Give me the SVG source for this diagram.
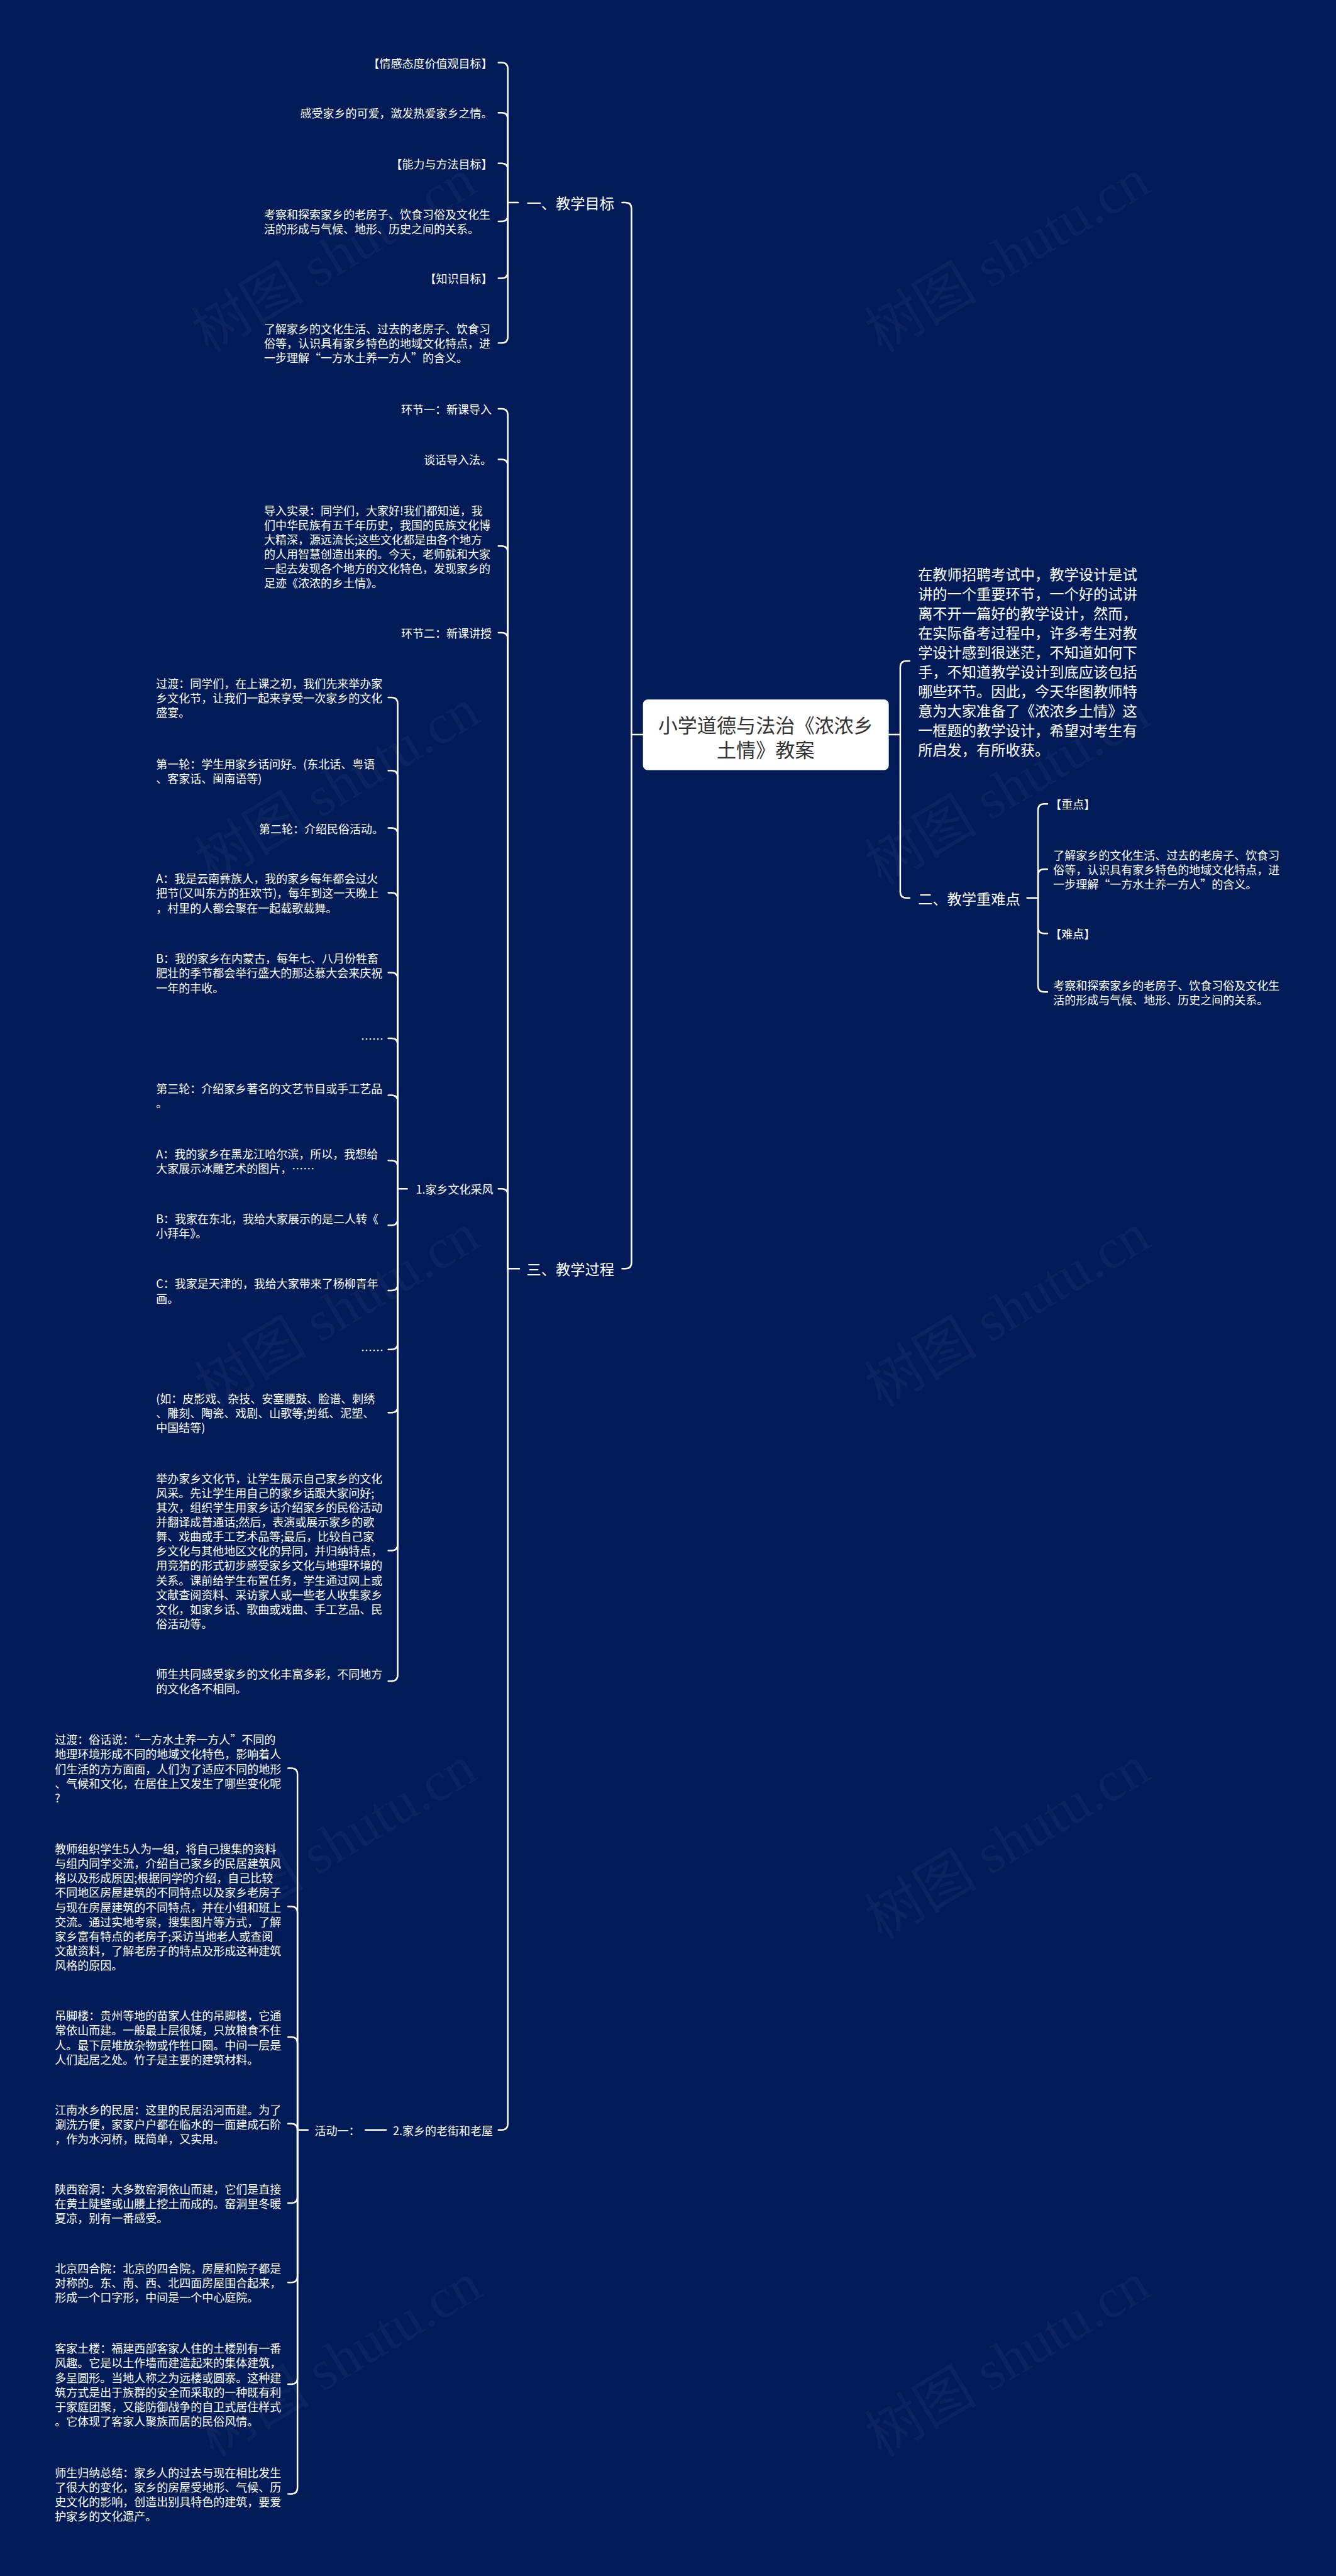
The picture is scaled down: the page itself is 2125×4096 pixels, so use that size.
<svg xmlns="http://www.w3.org/2000/svg" width="2125" height="4096" viewBox="0 0 2125 4096">
<style>
.t{font-family:"Noto Sans CJK SC","Liberation Sans",sans-serif;fill:#ffffff;font-size:21.7px;dominant-baseline:central}
.l2{font-size:28px}
.rt{font-family:"Noto Sans CJK SC","Liberation Sans",sans-serif;fill:#333333;font-size:37.5px;dominant-baseline:central;text-anchor:middle}
.e{text-anchor:end}
.c path{fill:none;stroke:#ffffff;stroke-width:3;stroke-linecap:round;stroke-linejoin:round}
.wm{font-family:"Liberation Serif","Noto Sans CJK SC",serif;font-size:108px;fill:#ffffff;fill-opacity:0.045;text-anchor:middle;dominant-baseline:central}
</style>
<rect width="2125" height="4096" fill="#001b58"/>
<g transform="scale(0.8301)">
<g id="watermark">
<text class="wm" x="640" y="490" transform="rotate(-31 640 490)">树图 shutu.cn</text>
<text class="wm" x="1930" y="490" transform="rotate(-31 1930 490)">树图 shutu.cn</text>
<text class="wm" x="646" y="1505" transform="rotate(-31 646 1505)">树图 shutu.cn</text>
<text class="wm" x="1930" y="1510" transform="rotate(-31 1930 1510)">树图 shutu.cn</text>
<text class="wm" x="646" y="2510" transform="rotate(-31 646 2510)">树图 shutu.cn</text>
<text class="wm" x="1930" y="2510" transform="rotate(-31 1930 2510)">树图 shutu.cn</text>
<text class="wm" x="640" y="3530" transform="rotate(-31 640 3530)">树图 shutu.cn</text>
<text class="wm" x="1930" y="3530" transform="rotate(-31 1930 3530)">树图 shutu.cn</text>
<text class="wm" x="650" y="4520" transform="rotate(-31 650 4520)">树图 shutu.cn</text>
<text class="wm" x="1930" y="4520" transform="rotate(-31 1930 4520)">树图 shutu.cn</text>
</g>
<g id="connectors" class="c">
<path d="M1232,1407 L1210,1407"/>
<path d="M1192,388 L1198,388 Q1210,388 1210,400 L1210,1407"/>
<path d="M1210,1407 L1210,2418 Q1210,2430 1198,2430 L1192,2430"/>
<path d="M1703,1407 L1725,1407"/>
<path d="M1725,1407 L1725,1278 Q1725,1266 1737,1266 L1743,1266"/>
<path d="M1725,1407 L1725,1708 Q1725,1720 1737,1720 L1743,1720"/>
<path d="M1968,1720 L1989,1720"/>
<path d="M1989,1720 L1989,1552 Q1989,1540 2001,1540 L2007,1540"/>
<path d="M1989,1720 L1989,1677 Q1989,1665 2001,1665 L2007,1665"/>
<path d="M1989,1720 L1989,1776 Q1989,1788 2001,1788 L2007,1788"/>
<path d="M1989,1720 L1989,1888 Q1989,1900 2001,1900 L2007,1900"/>
<path d="M993,388 L973,388"/>
<path d="M955,120 L961,120 Q973,120 973,132 L973,388"/>
<path d="M955,216 L961,216 Q973,216 973,228 L973,388"/>
<path d="M955,313 L961,313 Q973,313 973,325 L973,388"/>
<path d="M973,388 L973,412 Q973,424 961,424 L955,424"/>
<path d="M973,388 L973,521 Q973,533 961,533 L955,533"/>
<path d="M973,388 L973,645 Q973,657 961,657 L955,657"/>
<path d="M995,2430 L973,2430"/>
<path d="M955,783 L961,783 Q973,783 973,795 L973,2430"/>
<path d="M955,880 L961,880 Q973,880 973,892 L973,2430"/>
<path d="M955,1046 L961,1046 Q973,1046 973,1058 L973,2430"/>
<path d="M955,1212 L961,1212 Q973,1212 973,1224 L973,2430"/>
<path d="M955,2277 L961,2277 Q973,2277 973,2289 L973,2430"/>
<path d="M973,2430 L973,4068 Q973,4080 961,4080 L955,4080"/>
<path d="M780,2277 L762,2277"/>
<path d="M744,1336 L750,1336 Q762,1336 762,1348 L762,2277"/>
<path d="M744,1476 L750,1476 Q762,1476 762,1488 L762,2277"/>
<path d="M744,1586 L750,1586 Q762,1586 762,1598 L762,2277"/>
<path d="M744,1710 L750,1710 Q762,1710 762,1722 L762,2277"/>
<path d="M744,1863 L750,1863 Q762,1863 762,1875 L762,2277"/>
<path d="M744,1989 L750,1989 Q762,1989 762,2001 L762,2277"/>
<path d="M744,2098 L750,2098 Q762,2098 762,2110 L762,2277"/>
<path d="M744,2223 L750,2223 Q762,2223 762,2235 L762,2277"/>
<path d="M762,2277 L762,2335 Q762,2347 750,2347 L744,2347"/>
<path d="M762,2277 L762,2460 Q762,2472 750,2472 L744,2472"/>
<path d="M762,2277 L762,2573 Q762,2585 750,2585 L744,2585"/>
<path d="M762,2277 L762,2694 Q762,2706 750,2706 L744,2706"/>
<path d="M762,2277 L762,2958 Q762,2970 750,2970 L744,2970"/>
<path d="M762,2277 L762,3208 Q762,3220 750,3220 L744,3220"/>
<path d="M740,4080 L700,4080"/>
<path d="M590,4080 L570,4080"/>
<path d="M552,3387 L558,3387 Q570,3387 570,3399 L570,4080"/>
<path d="M552,3652 L558,3652 Q570,3652 570,3664 L570,4080"/>
<path d="M552,3902 L558,3902 Q570,3902 570,3914 L570,4080"/>
<path d="M552,4068 L558,4068 Q570,4068 570,4080"/>
<path d="M570,4080 L570,4208 Q570,4220 558,4220 L552,4220"/>
<path d="M570,4080 L570,4360 Q570,4372 558,4372 L552,4372"/>
<path d="M570,4080 L570,4555 Q570,4567 558,4567 L552,4567"/>
<path d="M570,4080 L570,4765 Q570,4777 558,4777 L552,4777"/>
</g>
<g id="root">
<rect x="1232" y="1340" width="471" height="135" rx="9" fill="#ffffff"/>
<text class="rt"><tspan x="1467" y="1386">小学道德与法治《浓浓乡</tspan><tspan x="1467" y="1433">土情》教案</tspan></text>
</g>
<g id="n-intro"><text class="t l2"><tspan x="1759" y="1098.7">在教师招聘考试中，教学设计是试</tspan><tspan x="1759" y="1136.1">讲的一个重要环节，一个好的试讲</tspan><tspan x="1759" y="1173.5">离不开一篇好的教学设计，然而，</tspan><tspan x="1759" y="1210.9">在实际备考过程中，许多考生对教</tspan><tspan x="1759" y="1248.3">学设计感到很迷茫，不知道如何下</tspan><tspan x="1759" y="1285.7">手，不知道教学设计到底应该包括</tspan><tspan x="1759" y="1323.1">哪些环节。因此，今天华图教师特</tspan><tspan x="1759" y="1360.5">意为大家准备了《浓浓乡土情》这</tspan><tspan x="1759" y="1397.9">一框题的教学设计，希望对考生有</tspan><tspan x="1759" y="1435.3">所启发，有所收获。</tspan></text></g>
<g id="n-zhongnan"><text class="t l2" x="1759" y="1720">二、教学重难点</text></g>
<g id="n-zhongdian"><text class="t" x="2012" y="1540">【重点】</text></g>
<g id="n-zhongdian-c"><text class="t"><tspan x="2018" y="1637.2">了解家乡的文化生活、过去的老房子、饮食习</tspan><tspan x="2018" y="1665">俗等，认识具有家乡特色的地域文化特点，进</tspan><tspan x="2018" y="1692.8">一步理解“一方水土养一方人”的含义。</tspan></text></g>
<g id="n-nandian"><text class="t" x="2012" y="1788">【难点】</text></g>
<g id="n-nandian-c"><text class="t"><tspan x="2018" y="1886.1">考察和探索家乡的老房子、饮食习俗及文化生</tspan><tspan x="2018" y="1913.9">活的形成与气候、地形、历史之间的关系。</tspan></text></g>
<g id="n-mubiao"><text class="t l2" x="1009" y="388">一、教学目标</text></g>
<g id="n-m1"><text class="t e" x="944" y="120">【情感态度价值观目标】</text></g>
<g id="n-m2"><text class="t e" x="944" y="216">感受家乡的可爱，激发热爱家乡之情。</text></g>
<g id="n-m3"><text class="t e" x="944" y="313">【能力与方法目标】</text></g>
<g id="n-m4"><text class="t"><tspan x="506" y="410.1">考察和探索家乡的老房子、饮食习俗及文化生</tspan><tspan x="506" y="437.9">活的形成与气候、地形、历史之间的关系。</tspan></text></g>
<g id="n-m5"><text class="t e" x="944" y="533">【知识目标】</text></g>
<g id="n-m6"><text class="t"><tspan x="506" y="629.2">了解家乡的文化生活、过去的老房子、饮食习</tspan><tspan x="506" y="657">俗等，认识具有家乡特色的地域文化特点，进</tspan><tspan x="506" y="684.8">一步理解“一方水土养一方人”的含义。</tspan></text></g>
<g id="n-guocheng"><text class="t l2" x="1009" y="2430">三、教学过程</text></g>
<g id="n-g1"><text class="t e" x="942" y="783">环节一：新课导入</text></g>
<g id="n-g2"><text class="t e" x="942" y="880">谈话导入法。</text></g>
<g id="n-g3"><text class="t"><tspan x="506" y="976.5">导入实录：同学们，大家好!我们都知道，我</tspan><tspan x="506" y="1004.3">们中华民族有五千年历史，我国的民族文化博</tspan><tspan x="506" y="1032.1">大精深，源远流长;这些文化都是由各个地方</tspan><tspan x="506" y="1059.9">的人用智慧创造出来的。今天，老师就和大家</tspan><tspan x="506" y="1087.7">一起去发现各个地方的文化特色，发现家乡的</tspan><tspan x="506" y="1115.5">足迹《浓浓的乡土情》。</tspan></text></g>
<g id="n-g4"><text class="t e" x="942" y="1212">环节二：新课讲授</text></g>
<g id="n-caifeng"><text class="t" x="797" y="2277">1.家乡文化采风</text></g>
<g id="n-c1"><text class="t"><tspan x="299" y="1308.2">过渡：同学们，在上课之初，我们先来举办家</tspan><tspan x="299" y="1336">乡文化节，让我们一起来享受一次家乡的文化</tspan><tspan x="299" y="1363.8">盛宴。</tspan></text></g>
<g id="n-c2"><text class="t"><tspan x="299" y="1462.1">第一轮：学生用家乡话问好。(东北话、粤语</tspan><tspan x="299" y="1489.9">、客家话、闽南语等)</tspan></text></g>
<g id="n-c3"><text class="t e" x="735" y="1586">第二轮：介绍民俗活动。</text></g>
<g id="n-c4"><text class="t"><tspan x="299" y="1682.2">A：我是云南彝族人，我的家乡每年都会过火</tspan><tspan x="299" y="1710">把节(又叫东方的狂欢节)，每年到这一天晚上</tspan><tspan x="299" y="1737.8">，村里的人都会聚在一起载歌载舞。</tspan></text></g>
<g id="n-c5"><text class="t"><tspan x="299" y="1835.2">B：我的家乡在内蒙古，每年七、八月份牲畜</tspan><tspan x="299" y="1863">肥壮的季节都会举行盛大的那达慕大会来庆祝</tspan><tspan x="299" y="1890.8">一年的丰收。</tspan></text></g>
<g id="n-c6"><text class="t e" x="735" y="1989">……</text></g>
<g id="n-c7"><text class="t"><tspan x="299" y="2084.1">第三轮：介绍家乡著名的文艺节目或手工艺品</tspan><tspan x="299" y="2111.9">。</tspan></text></g>
<g id="n-c8"><text class="t"><tspan x="299" y="2209.1">A：我的家乡在黑龙江哈尔滨，所以，我想给</tspan><tspan x="299" y="2236.9">大家展示冰雕艺术的图片，……</tspan></text></g>
<g id="n-c9"><text class="t"><tspan x="299" y="2333.1">B：我家在东北，我给大家展示的是二人转《</tspan><tspan x="299" y="2360.9">小拜年》。</tspan></text></g>
<g id="n-c10"><text class="t"><tspan x="299" y="2458.1">C：我家是天津的，我给大家带来了杨柳青年</tspan><tspan x="299" y="2485.9">画。</tspan></text></g>
<g id="n-c11"><text class="t e" x="735" y="2585">……</text></g>
<g id="n-c12"><text class="t"><tspan x="299" y="2678.2">(如：皮影戏、杂技、安塞腰鼓、脸谱、刺绣</tspan><tspan x="299" y="2706">、雕刻、陶瓷、戏剧、山歌等;剪纸、泥塑、</tspan><tspan x="299" y="2733.8">中国结等)</tspan></text></g>
<g id="n-c13"><text class="t"><tspan x="299" y="2831">举办家乡文化节，让学生展示自己家乡的文化</tspan><tspan x="299" y="2858.8">风采。先让学生用自己的家乡话跟大家问好;</tspan><tspan x="299" y="2886.6">其次，组织学生用家乡话介绍家乡的民俗活动</tspan><tspan x="299" y="2914.4">并翻译成普通话;然后，表演或展示家乡的歌</tspan><tspan x="299" y="2942.2">舞、戏曲或手工艺术品等;最后，比较自己家</tspan><tspan x="299" y="2970">乡文化与其他地区文化的异同，并归纳特点，</tspan><tspan x="299" y="2997.8">用竞猜的形式初步感受家乡文化与地理环境的</tspan><tspan x="299" y="3025.6">关系。课前给学生布置任务，学生通过网上或</tspan><tspan x="299" y="3053.4">文献查阅资料、采访家人或一些老人收集家乡</tspan><tspan x="299" y="3081.2">文化，如家乡话、歌曲或戏曲、手工艺品、民</tspan><tspan x="299" y="3109">俗活动等。</tspan></text></g>
<g id="n-c14"><text class="t"><tspan x="299" y="3206.1">师生共同感受家乡的文化丰富多彩，不同地方</tspan><tspan x="299" y="3233.9">的文化各不相同。</tspan></text></g>
<g id="n-laojie"><text class="t" x="753" y="4080">2.家乡的老街和老屋</text></g>
<g id="n-huodong"><text class="t" x="603" y="4080">活动一：</text></g>
<g id="n-h1"><text class="t"><tspan x="105" y="3331.4">过渡：俗话说：“一方水土养一方人”不同的</tspan><tspan x="105" y="3359.2">地理环境形成不同的地域文化特色，影响着人</tspan><tspan x="105" y="3387">们生活的方方面面，人们为了适应不同的地形</tspan><tspan x="105" y="3414.8">、气候和文化，在居住上又发生了哪些变化呢</tspan><tspan x="105" y="3442.6">?</tspan></text></g>
<g id="n-h2"><text class="t"><tspan x="105" y="3540.8">教师组织学生5人为一组，将自己搜集的资料</tspan><tspan x="105" y="3568.6">与组内同学交流，介绍自己家乡的民居建筑风</tspan><tspan x="105" y="3596.4">格以及形成原因;根据同学的介绍，自己比较</tspan><tspan x="105" y="3624.2">不同地区房屋建筑的不同特点以及家乡老房子</tspan><tspan x="105" y="3652">与现在房屋建筑的不同特点，并在小组和班上</tspan><tspan x="105" y="3679.8">交流。通过实地考察，搜集图片等方式，了解</tspan><tspan x="105" y="3707.6">家乡富有特点的老房子;采访当地老人或查阅</tspan><tspan x="105" y="3735.4">文献资料，了解老房子的特点及形成这种建筑</tspan><tspan x="105" y="3763.2">风格的原因。</tspan></text></g>
<g id="n-h3"><text class="t"><tspan x="105" y="3860.3">吊脚楼：贵州等地的苗家人住的吊脚楼，它通</tspan><tspan x="105" y="3888.1">常依山而建。一般最上层很矮，只放粮食不住</tspan><tspan x="105" y="3915.9">人。最下层堆放杂物或作牲口圈。中间一层是</tspan><tspan x="105" y="3943.7">人们起居之处。竹子是主要的建筑材料。</tspan></text></g>
<g id="n-h4"><text class="t"><tspan x="105" y="4040.2">江南水乡的民居：这里的民居沿河而建。为了</tspan><tspan x="105" y="4068">涮洗方便，家家户户都在临水的一面建成石阶</tspan><tspan x="105" y="4095.8">，作为水河桥，既简单，又实用。</tspan></text></g>
<g id="n-h5"><text class="t"><tspan x="105" y="4192.2">陕西窑洞：大多数窑洞依山而建，它们是直接</tspan><tspan x="105" y="4220">在黄土陡壁或山腰上挖土而成的。窑洞里冬暖</tspan><tspan x="105" y="4247.8">夏凉，别有一番感受。</tspan></text></g>
<g id="n-h6"><text class="t"><tspan x="105" y="4344.2">北京四合院：北京的四合院，房屋和院子都是</tspan><tspan x="105" y="4372">对称的。东、南、西、北四面房屋围合起来，</tspan><tspan x="105" y="4399.8">形成一个口字形，中间是一个中心庭院。</tspan></text></g>
<g id="n-h7"><text class="t"><tspan x="105" y="4497.5">客家土楼：福建西部客家人住的土楼别有一番</tspan><tspan x="105" y="4525.3">风趣。它是以土作墙而建造起来的集体建筑，</tspan><tspan x="105" y="4553.1">多呈圆形。当地人称之为远楼或圆寨。这种建</tspan><tspan x="105" y="4580.9">筑方式是出于族群的安全而采取的一种既有利</tspan><tspan x="105" y="4608.7">于家庭团聚，又能防御战争的自卫式居住样式</tspan><tspan x="105" y="4636.5">。它体现了客家人聚族而居的民俗风情。</tspan></text></g>
<g id="n-h8"><text class="t"><tspan x="105" y="4735.3">师生归纳总结：家乡人的过去与现在相比发生</tspan><tspan x="105" y="4763.1">了很大的变化，家乡的房屋受地形、气候、历</tspan><tspan x="105" y="4790.9">史文化的影响，创造出别具特色的建筑，要爱</tspan><tspan x="105" y="4818.7">护家乡的文化遗产。</tspan></text></g>
</g>
</svg>
